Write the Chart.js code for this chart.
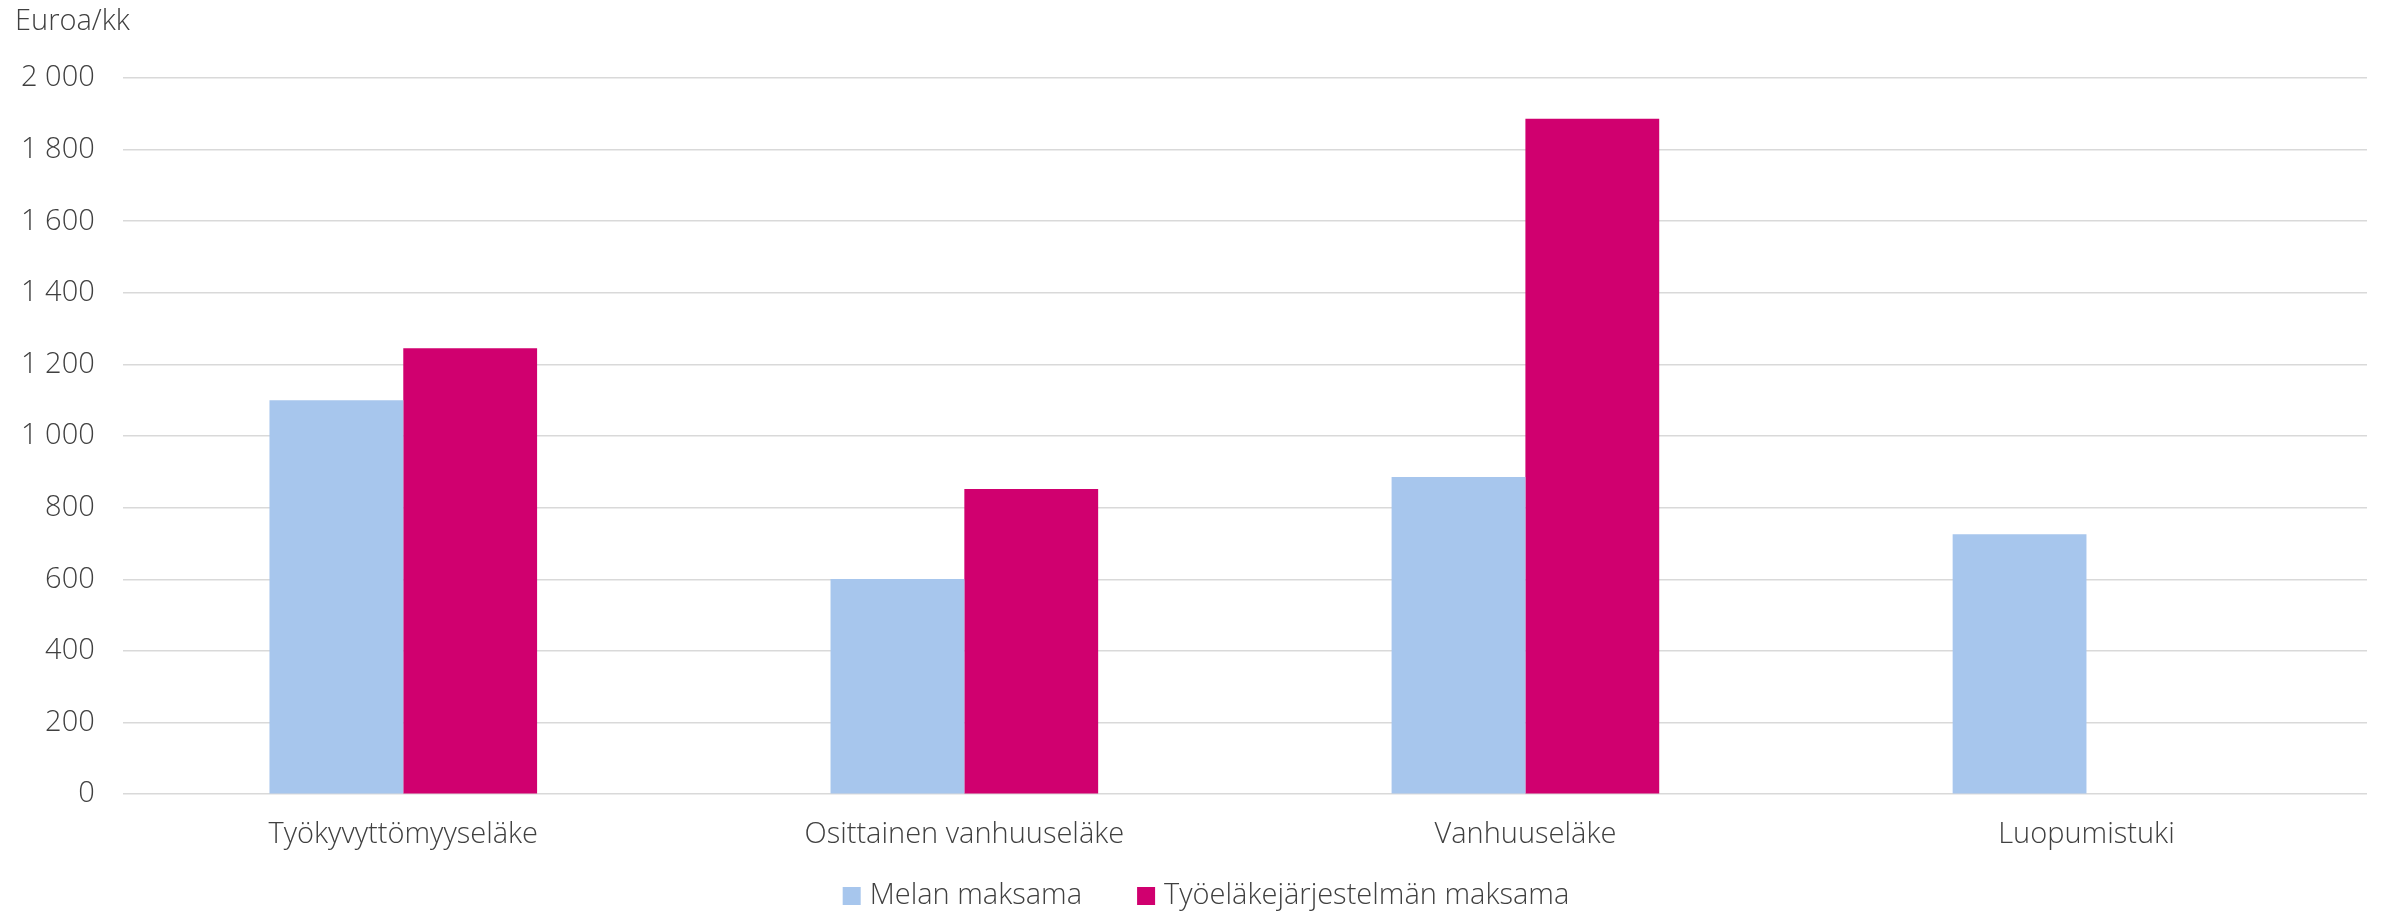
<!DOCTYPE html>
<html>
<head>
<meta charset="utf-8">
<script src="https://cdn.jsdelivr.net/npm/chart.js@4/dist/chart.umd.min.js"></script>
<style>
    html, body { margin: 0; padding: 0; background: #fff; }
    #wrap { width: 2382px; height: 914px; }
</style>
</head>
<body>
<div id="wrap"><canvas id="chart"></canvas></div>
<script>
const categories = ['Työkyvyttömyyseläke', 'Osittainen vanhuuseläke', 'Vanhuuseläke', 'Luopumistuki'];
const melaValues = [1100, 601, 886, 726];
const telValues = [1245, 852, 1886, null];
const seriesNames = ['Melan maksama', 'Työeläkejärjestelmän maksama'];
const yTicks = [0, 200, 400, 600, 800, 1000, 1200, 1400, 1600, 1800, 2000];
const axisTitle = 'Euroa/kk';

const FONT = '"Open Sans", "Segoe UI", Arial, sans-serif';
const TEXT_COLOR = '#404040';
const FONT_SIZE = 29;

// "2 000" style thousands
function formatTick(value) {
    return String(value).replace(/\B(?=(\d{3})+(?!\d))/g, ' ');
}

// unit label in the top left corner
const axisTitlePlugin = {
    id: 'axisTitle',
    afterDraw(chart) {
        const c = chart.ctx;
        c.save();
        c.fillStyle = TEXT_COLOR;
        c.font = `300 ${FONT_SIZE}px ${FONT}`;
        c.textAlign = 'left';
        c.textBaseline = 'middle';
        c.fillText(axisTitle, 15, 22);
        c.restore();
    },
};

// legend under the chart, Excel-like spacing (wider gap between items than chart.js allows)
const bottomLegendPlugin = {
    id: 'bottomLegend',
    afterDraw(chart) {
        const c = chart.ctx;
        const box = 18;
        const textGap = 9;
        const itemGap = 55;
        const y = chart.height - 18;
        c.save();
        c.font = `300 ${FONT_SIZE}px ${FONT}`;
        c.textBaseline = 'middle';
        c.textAlign = 'left';
        const items = chart.data.datasets.map((ds) => ({
            text: ds.label,
            color: ds.backgroundColor,
            width: box + textGap + c.measureText(ds.label).width,
        }));
        const total = items.reduce((sum, it) => sum + it.width, 0) + itemGap * (items.length - 1);
        let x = chart.width / 2 + 15 - total / 2;
        items.forEach((it) => {
            c.fillStyle = it.color;
            c.fillRect(x, y - box / 2, box, box);
            c.fillStyle = TEXT_COLOR;
            c.fillText(it.text, x + box + textGap, y);
            x += it.width + itemGap;
        });
        c.restore();
    },
};

const ctx = document.getElementById('chart');
new Chart(ctx, {
    type: 'bar',
    data: {
        labels: categories,
        datasets: [
            {
                label: seriesNames[0],
                data: melaValues,
                backgroundColor: '#A7C6ED',
                borderWidth: 0,
            },
            {
                label: seriesNames[1],
                data: telValues,
                backgroundColor: '#D0006F',
                borderWidth: 0,
            },
        ],
    },
    plugins: [axisTitlePlugin, bottomLegendPlugin],
    options: {
        responsive: true,
        maintainAspectRatio: false,
        animation: false,
        layout: {
            padding: { left: -7, right: 15, top: 78, bottom: 46 },
        },
        datasets: {
            bar: {
                categoryPercentage: 0.477,
                barPercentage: 1,
            },
        },
        plugins: {
            legend: { display: false },
            tooltip: { enabled: false },
        },
        scales: {
            x: {
                grid: { display: false },
                border: { display: false },
                ticks: {
                    color: TEXT_COLOR,
                    padding: 15.5,
                    font: { family: FONT, size: FONT_SIZE, weight: '300' },
                },
            },
            y: {
                min: 0,
                max: 2000,
                afterBuildTicks: (scale) => {
                    scale.ticks = yTicks.map((v) => ({ value: v }));
                },
                grid: {
                    color: '#D9D9D9',
                    lineWidth: 1.5,
                    drawTicks: false,
                },
                border: { display: false },
                ticks: {
                    color: TEXT_COLOR,
                    padding: 28,
                    font: { family: FONT, size: FONT_SIZE, weight: '300' },
                    callback: (value) => formatTick(value),
                },
            },
        },
    },
});
</script>
</body>
</html>
